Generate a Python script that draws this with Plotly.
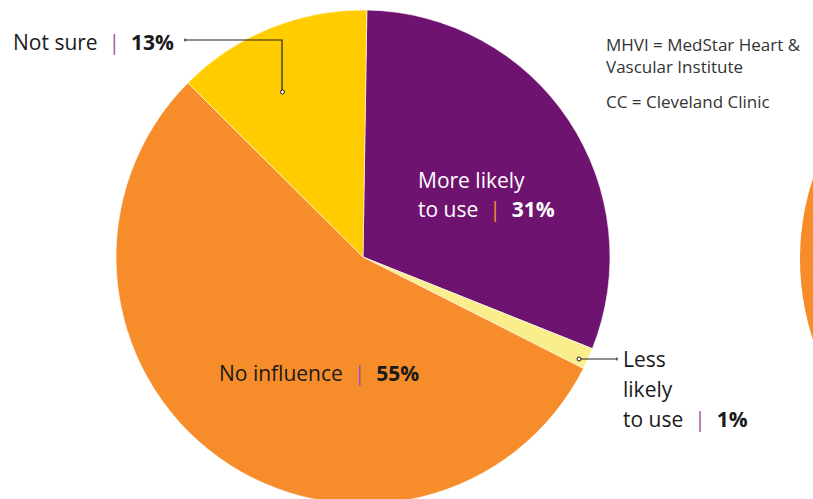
import plotly.graph_objects as go

# ---- data ----
categories = ["More likely to use", "Less likely to use", "No influence", "Not sure"]
values = [30.8, 1.4, 55.0, 12.8]
pct_labels = ["31%", "1%", "55%", "13%"]
colors = ["#6E1470", "#FAEE8C", "#F68D2A", "#FFCC00"]
note_lines = ["MHVI = MedStar Heart &", "Vascular Institute", "CC = Cleveland Clinic"]

W, H = 813, 504
FONT = "Open Sans, Arial, sans-serif"
PURPLE_SEP = "#9B57A6"
ORANGE_SEP = "#F68D2A"


def px(x):
    return x / W


def py(y):
    return 1 - y / H


fig = go.Figure()
fig.add_trace(go.Pie(
    labels=categories,
    values=values,
    sort=False,
    direction="clockwise",
    rotation=0.9,
    marker=dict(colors=colors, line=dict(color="white", width=0.6)),
    textinfo="none",
    hoverinfo="label+percent",
    showlegend=False,
    domain=dict(x=[px(116), px(610)], y=[0, py(10)]),
))


def sep(c):
    return f"<span style='color:{c}'>|</span>"


annotations = []


def add(text, x, y, xanchor="left", size=21, color="#1a1a1a"):
    annotations.append(dict(x=px(x), y=py(y), xanchor=xanchor, yanchor="middle",
                            text=text, font=dict(size=size, color=color, family=FONT)))


# Not sure
add(f"{categories[3]}  {sep(PURPLE_SEP)}  <b>{pct_labels[3]}</b>", 11, 42)
# More likely to use
add("More likely", 416, 180, color="white")
add(f"to use  {sep(ORANGE_SEP)}  <b>{pct_labels[0]}</b>", 416, 209, color="white")
# No influence
add(f"{categories[2]}  {sep(PURPLE_SEP)}  <b>{pct_labels[2]}</b>", 319, 373, xanchor="center")
# Less likely to use
add("Less", 621, 359)
add("likely", 621, 389)
add(f"to use  {sep(PURPLE_SEP)}  <b>{pct_labels[1]}</b>", 621, 419)
# Note
add(note_lines[0], 604, 44, size=17, color="#333333")
add(note_lines[1], 604, 67, size=17, color="#333333")
add(note_lines[2], 604, 102, size=17, color="#333333")

for a in annotations:
    a.update(xref="paper", yref="paper", showarrow=False)

shapes = [
    # leader: Not sure
    dict(type="path", path=f"M {px(185)},{py(40)} L {px(282)},{py(40)} L {px(282)},{py(90)}",
         line=dict(color="#222222", width=1.2)),
    dict(type="circle", x0=px(280.5), x1=px(284.5), y0=py(90), y1=py(94),
         line=dict(color="#222222", width=1), fillcolor="white"),
    dict(type="line", x0=px(185), x1=px(185), y0=py(38.5), y1=py(41.5),
         line=dict(color="#222222", width=1.2)),
    # leader: Less likely
    dict(type="line", x0=px(580), x1=px(617), y0=py(359), y1=py(359),
         line=dict(color="#222222", width=1.2)),
    dict(type="circle", x0=px(577), x1=px(581), y0=py(357), y1=py(361),
         line=dict(color="#222222", width=1), fillcolor="white"),
    dict(type="line", x0=px(617), x1=px(617), y0=py(357.5), y1=py(360.5),
         line=dict(color="#222222", width=1.2)),
    # neighbouring (cut-off) pie at the right edge
    dict(type="circle", x0=px(800), x1=px(1318), y0=py(0), y1=py(518),
         line=dict(width=0), fillcolor="#F68D2A", layer="below"),
]
for s in shapes:
    s.update(xref="paper", yref="paper")

fig.update_layout(
    width=W, height=H,
    margin=dict(l=0, r=0, t=0, b=0),
    paper_bgcolor="white",
    plot_bgcolor="white",
    annotations=annotations,
    shapes=shapes,
)

fig.write_html("out.html", post_script="document.documentElement.style.overflow='hidden';document.body.style.overflow='hidden';")
